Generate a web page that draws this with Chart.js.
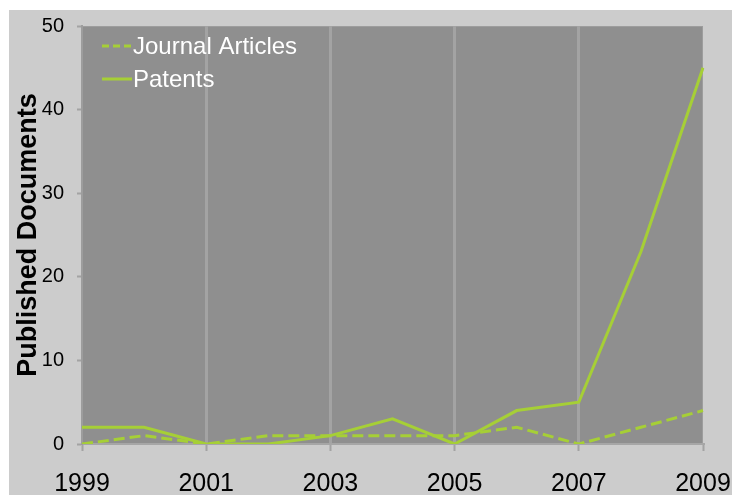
<!DOCTYPE html>
<html>
<head>
<meta charset="utf-8">
<script src="https://cdn.jsdelivr.net/npm/chart.js@4.4.1/dist/chart.umd.min.js"></script>
<style>
  html, body { margin: 0; padding: 0; background: #ffffff; }
  #wrap { position: absolute; left: 9px; top: 10px; width: 723px; height: 485px; background: #cccccc; }
</style>
</head>
<body>
<div id="wrap"><canvas id="chart"></canvas></div>
<script>
const years = ['1999', '2000', '2001', '2002', '2003', '2004', '2005', '2006', '2007', '2008', '2009'];
const journalArticles = [0, 1, 0, 1, 1, 1, 1, 2, 0, 2, 4];
const patents = [2, 2, 0, 0, 1, 3, 0, 4, 5, 23, 45];
const yTicks = [0, 10, 20, 30, 40, 50];

const lineColor = '#a6cf36';
const gridColor = '#a3a3a3';
const fontFamily = '"Liberation Sans", Arial, sans-serif';

const plotBackground = {
    id: 'plotBackground',
    beforeDraw(chart) {
        const {ctx, chartArea: a} = chart;
        ctx.save();
        ctx.fillStyle = '#8f8f8f';
        ctx.fillRect(a.left, a.top, a.right - a.left, a.bottom - a.top);
        ctx.strokeStyle = '#9d9d9d';
        ctx.lineWidth = 1;
        ctx.strokeRect(a.left + 0.5, a.top + 0.5, a.right - a.left - 1, a.bottom - a.top - 1);
        ctx.restore();
    }
};

// legend sits inside the plot, top left
const insideLegend = {
    id: 'insideLegend',
    afterDatasetsDraw(chart) {
        const {ctx, chartArea: a} = chart;
        ctx.save();
        ctx.font = '24px ' + fontFamily;
        ctx.textBaseline = 'middle';
        ctx.fillStyle = '#ffffff';
        chart.data.datasets.forEach((ds, i) => {
            const y = a.top + 20 + i * 33;
            ctx.strokeStyle = ds.borderColor;
            ctx.lineWidth = 3;
            ctx.setLineDash(ds.borderDash.length ? [7, 4] : []);
            ctx.beginPath();
            ctx.moveTo(a.left + 20, y);
            ctx.lineTo(a.left + 50, y);
            ctx.stroke();
            ctx.fillText(ds.label, a.left + 51, y + 1);
        });
        ctx.restore();
    }
};

const data = {
    labels: years,
    datasets: [
        {
            label: 'Journal Articles',
            data: journalArticles,
            borderColor: lineColor,
            borderWidth: 3,
            borderDash: [11, 5],
            pointRadius: 0,
            tension: 0
        },
        {
            label: 'Patents',
            data: patents,
            borderColor: lineColor,
            borderWidth: 3,
            borderDash: [],
            pointRadius: 0,
            tension: 0
        }
    ]
};

const config = {
    type: 'line',
    data: data,
    options: {
        responsive: true,
        maintainAspectRatio: false,
        animation: false,
        layout: {
            padding: {top: 16, right: 29, left: 0, bottom: 0}
        },
        scales: {
            x: {
                offset: false,
                afterFit: (scale) => {
                    scale.height = 51;
                    scale.paddingLeft = 0;
                    scale.paddingRight = 0;
                },
                grid: {
                    lineWidth: 3,
                    color: (c) => (c.index % 2 === 0 && c.index > 0 && c.index < years.length - 1) ? gridColor : 'rgba(0,0,0,0)',
                    tickColor: (c) => c.index % 2 === 0 ? gridColor : 'rgba(0,0,0,0)',
                    tickWidth: 2,
                    tickLength: 7
                },
                border: { display: true, color: '#a6a6a6', width: 2 },
                ticks: {
                    autoSkip: false,
                    maxRotation: 0,
                    padding: 18,
                    color: '#000000',
                    font: { family: fontFamily, size: 25 },
                    callback: function (value, index) {
                        return index % 2 === 0 ? years[index] : '';
                    }
                }
            },
            y: {
                min: 0,
                max: 50,
                afterFit: (scale) => {
                    scale.width = 73;
                    scale.paddingTop = 0;
                    scale.paddingBottom = 0;
                },
                afterBuildTicks: (scale) => { scale.ticks = yTicks.map(v => ({value: v})); },
                grid: {
                    drawOnChartArea: false,
                    tickColor: gridColor,
                    tickWidth: 2,
                    tickLength: 5
                },
                border: { display: true, color: '#9d9d9d', width: 2 },
                ticks: {
                    padding: 13,
                    color: '#000000',
                    font: { family: fontFamily, size: 20 }
                },
                title: {
                    display: true,
                    text: 'Published Documents',
                    color: '#000000',
                    padding: {top: 3, bottom: 0},
                    font: { family: fontFamily, size: 27, weight: 'bold' }
                }
            }
        },
        plugins: {
            legend: { display: false },
            tooltip: { enabled: false }
        }
    },
    plugins: [plotBackground, insideLegend]
};

new Chart(document.getElementById('chart'), config);
</script>
</body>
</html>
